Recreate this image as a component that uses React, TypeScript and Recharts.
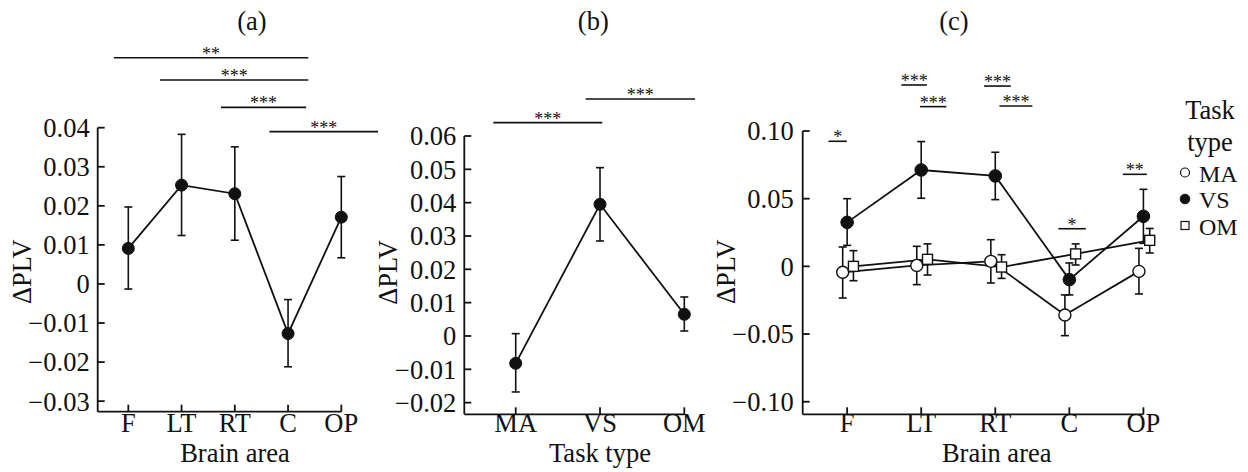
import React from 'react';
import { LineChart, Line, XAxis, YAxis, ErrorBar, ReferenceLine } from 'recharts';

// ---------- data ----------
const areas = ['F', 'LT', 'RT', 'C', 'OP'];
const taskTypes = ['MA', 'VS', 'OM'];

// (a) by brain area
const areaMean = [0.0091, 0.0253, 0.0231, -0.0127, 0.0171];
const areaLow = [-0.0013, 0.0124, 0.0112, -0.0212, 0.0067];
const areaHigh = [0.0197, 0.0383, 0.0351, -0.004, 0.0275];

// (b) by task type
const taskMean = [-0.0082, 0.0395, 0.0065];
const taskLow = [-0.0168, 0.0285, 0.0015];
const taskHigh = [0.0007, 0.0505, 0.0117];

// (c) area x task
const maMean = [-0.0044, 0.0007, 0.0037, -0.0359, -0.0037];
const maLow = [-0.0234, -0.0135, -0.0123, -0.0512, -0.0204];
const maHigh = [0.0143, 0.0148, 0.0197, -0.0211, 0.0133];
const vsMean = [0.0325, 0.0712, 0.0668, -0.0098, 0.037];
const vsLow = [0.0155, 0.0503, 0.0493, -0.0211, 0.017];
const vsHigh = [0.05, 0.0922, 0.0843, 0.0025, 0.0569];
const omMean = [0, 0.0052, -0.0005, 0.0092, 0.0192];
const omLow = [-0.0106, -0.0064, -0.0089, 0.001, 0.0099];
const omHigh = [0.0116, 0.0166, 0.0086, 0.0166, 0.028];

// tick values
const aTicksY = [-0.03, -0.02, -0.01, 0, 0.01, 0.02, 0.03, 0.04];
const bTicksY = [-0.02, -0.01, 0, 0.01, 0.02, 0.03, 0.04, 0.05, 0.06];
const cTicksY = [-0.1, -0.05, 0, 0.05, 0.1];
const areaTicks = [0, 1, 2, 3, 4];
const taskTicks = [0, 1, 2];

// significance brackets: from, to, level, stars
const aSigFrom = [-0.27, 0.595, 1.74, 2.65];
const aSigTo = [3.38, 3.38, 3.34, 4.69];
const aSigLevel = [0.0579, 0.0522, 0.0452, 0.039];
const aSigStars = ['**', '***', '***', '***'];

const bSigFrom = [-0.266, 0.83];
const bSigTo = [1.027, 2.127];
const bSigLevel = [0.064, 0.0711];
const bSigStars = ['***', '***'];

const cSigFrom = [-0.252, 0.733, 0.985, 1.849, 2.056, 2.852, 3.722];
const cSigTo = [-0.004, 1.076, 1.34, 2.21, 2.501, 3.222, 4.046];
const cSigLevel = [0.0924, 0.134, 0.118, 0.1332, 0.1185, 0.0278, 0.068];
const cSigStars = ['*', '***', '***', '***', '***', '*', '**'];

// ---------- helpers ----------
const INK = '#111';
const FS = 26.5;
const FONT = '"Liberation Serif", "Times New Roman", serif';
const YW = 60; // y axis band width
const XH = 40; // x axis band height

const rows = (mean: number[], low: number[], high: number[], shift = 0) =>
  mean.map((v, i) => ({ x: i + shift, y: v, err: [v - low[i], high[i] - v] }));

const fmt = (v: number) => {
  if (Math.abs(v) < 1e-9) return '0';
  return (v < 0 ? '\u2212' : '') + Math.abs(v).toFixed(2);
};

const axisStyle = { stroke: INK, strokeWidth: 1.8 };
const tickStyle = { fill: INK, fontSize: FS, fontFamily: FONT };

const sigLines = (from: number[], to: number[], level: number[], stars: string[]) =>
  from.map((f, i) => (
    <ReferenceLine
      key={`sig-${i}`}
      segment={[
        { x: f, y: level[i] },
        { x: to[i], y: level[i] },
      ]}
      stroke={INK}
      strokeWidth={1.6}
      ifOverflow="visible"
      label={{ value: stars[i], position: 'top', offset: -2, fontSize: 18, fill: INK, fontFamily: FONT }}
    />
  ));

const filledDot = { r: 6, fill: INK, stroke: INK, strokeWidth: 1 };
const openDot = { r: 6, fill: '#fff', stroke: INK, strokeWidth: 1.4 };
const squareDot = (p: any) => {
  if (p.cx == null || p.cy == null) return <g key={`sq-${p.index}`} />;
  return (
    <rect
      key={`sq-${p.index}`}
      x={p.cx - 5}
      y={p.cy - 5}
      width={10}
      height={10}
      fill="#fff"
      stroke={INK}
      strokeWidth={1.4}
    />
  );
};

const aRows = rows(areaMean, areaLow, areaHigh);
const bRows = rows(taskMean, taskLow, taskHigh);
const maRows = rows(maMean, maLow, maHigh, -0.06);
const vsRows = rows(vsMean, vsLow, vsHigh, 0);
const omRows = rows(omMean, omLow, omHigh, 0.085);

const xAxisCommon = {
  type: 'number' as const,
  dataKey: 'x',
  interval: 0 as const,
  height: XH,
  tickSize: -7,
  tickLine: axisStyle,
  tick: tickStyle,
};
const yAxisCommon = {
  type: 'number' as const,
  interval: 0 as const,
  tickFormatter: fmt,
  width: YW,
  tickSize: -7,
  tickLine: axisStyle,
  axisLine: axisStyle,
  tick: tickStyle,
};

export default function App() {
  return (
    <div
      style={{
        position: 'absolute',
        left: 0,
        top: 0,
        width: 1248,
        height: 472,
        background: '#fff',
        fontFamily: FONT,
        overflow: 'hidden',
      }}
    >
      {/* (a) */}
      <div style={{ position: 'absolute', left: 0, top: 0 }}>
        <LineChart width={400} height={472} data={aRows} margin={{ top: 127.7, right: 58.7, bottom: 60.3 - XH, left: 97.7 - YW }}>
          <XAxis {...xAxisCommon} tickMargin={8} domain={[-0.575, 4]} ticks={areaTicks} tickFormatter={(v: number) => areas[v]} axisLine={axisStyle} />
          <YAxis {...yAxisCommon} domain={[-0.0327, 0.04]} ticks={aTicksY} tickMargin={15} />
          {sigLines(aSigFrom, aSigTo, aSigLevel, aSigStars)}
          <Line type="linear" dataKey="y" stroke={INK} strokeWidth={1.8} dot={filledDot} activeDot={false} isAnimationActive={false}>
            <ErrorBar dataKey="err" direction="y" width={4} stroke={INK} strokeWidth={1.6} />
          </Line>
        </LineChart>
      </div>

      {/* (b) */}
      <div style={{ position: 'absolute', left: 375, top: 0 }}>
        <LineChart width={365} height={472} data={bRows} margin={{ top: 136, right: 55.7, bottom: 57.7 - XH, left: 464.3 - 375 - YW }}>
          <XAxis {...xAxisCommon} tickMargin={6} domain={[-0.61, 2]} ticks={taskTicks} tickFormatter={(v: number) => taskTypes[v]} axisLine={axisStyle} />
          <YAxis {...yAxisCommon} domain={[-0.0235, 0.06]} ticks={bTicksY} tickMargin={15} />
          {sigLines(bSigFrom, bSigTo, bSigLevel, bSigStars)}
          <Line type="linear" dataKey="y" stroke={INK} strokeWidth={1.8} dot={filledDot} activeDot={false} isAnimationActive={false}>
            <ErrorBar dataKey="err" direction="y" width={4} stroke={INK} strokeWidth={1.6} />
          </Line>
        </LineChart>
      </div>

      {/* (c) */}
      <div style={{ position: 'absolute', left: 700, top: 0 }}>
        <LineChart width={548} height={472} margin={{ top: 131, right: 95.7, bottom: 57.7 - XH, left: 802.7 - 700 - YW }}>
          <XAxis {...xAxisCommon} tickMargin={6} domain={[-0.6, 4.12]} ticks={areaTicks} tickFormatter={(v: number) => areas[v]} axisLine={false} />
          <YAxis {...yAxisCommon} domain={[-0.1093, 0.1]} ticks={cTicksY} tickMargin={16} />
          <ReferenceLine
            segment={[
              { x: -0.6, y: -0.1093 },
              { x: 4, y: -0.1093 },
            ]}
            stroke={INK}
            strokeWidth={1.8}
            ifOverflow="visible"
          />
          {sigLines(cSigFrom, cSigTo, cSigLevel, cSigStars)}
          <Line data={maRows} type="linear" dataKey="y" name={taskTypes[0]} stroke={INK} strokeWidth={1.8} dot={openDot} activeDot={false} isAnimationActive={false}>
            <ErrorBar dataKey="err" direction="y" width={4} stroke={INK} strokeWidth={1.6} />
          </Line>
          <Line data={omRows} type="linear" dataKey="y" name={taskTypes[2]} stroke={INK} strokeWidth={1.8} dot={squareDot} activeDot={false} isAnimationActive={false}>
            <ErrorBar dataKey="err" direction="y" width={4} stroke={INK} strokeWidth={1.6} />
          </Line>
          <Line data={vsRows} type="linear" dataKey="y" name={taskTypes[1]} stroke={INK} strokeWidth={1.8} dot={{ ...filledDot, r: 6.3 }} activeDot={false} isAnimationActive={false}>
            <ErrorBar dataKey="err" direction="y" width={4} stroke={INK} strokeWidth={1.6} />
          </Line>
        </LineChart>
      </div>

      {/* titles, axis labels, legend */}
      <svg
        width={1248}
        height={472}
        style={{ position: 'absolute', left: 0, top: 0, pointerEvents: 'none' }}
        fontFamily={FONT}
        fill={INK}
      >
        <text x={252} y={29.5} fontSize={FS} textAnchor="middle">(a)</text>
        <text x={593.3} y={29.5} fontSize={FS} textAnchor="middle">(b)</text>
        <text x={954} y={29.5} fontSize={FS} textAnchor="middle">(c)</text>

        <text x={235} y={461.5} fontSize={FS} textAnchor="middle">Brain area</text>
        <text x={600} y={461.5} fontSize={FS} textAnchor="middle">Task type</text>
        <text x={996.7} y={461.5} fontSize={FS} textAnchor="middle">Brain area</text>

        <text x={31.5} y={271.7} fontSize={FS} textAnchor="middle" transform="rotate(-90 31.5 271.7)">ΔPLV</text>
        <text x={396.5} y={272.5} fontSize={FS} textAnchor="middle" transform="rotate(-90 396.5 272.5)">ΔPLV</text>
        <text x={735} y={271.7} fontSize={FS} textAnchor="middle" transform="rotate(-90 735 271.7)">ΔPLV</text>

        <text x={1210} y={119.3} fontSize={FS} textAnchor="middle">Task</text>
        <text x={1210} y={150.7} fontSize={FS} textAnchor="middle">type</text>

        <circle cx={1185} cy={172.5} r={4.5} fill="#fff" stroke={INK} strokeWidth={1.2} />
        <text x={1199} y={181.5} fontSize={24}>{taskTypes[0]}</text>
        <circle cx={1185} cy={199} r={4.8} fill={INK} stroke={INK} strokeWidth={1} />
        <text x={1199} y={208.3} fontSize={24}>{taskTypes[1]}</text>
        <rect x={1181} y={221.5} width={8} height={8} fill="#fff" stroke={INK} strokeWidth={1.2} />
        <text x={1199} y={235} fontSize={24}>{taskTypes[2]}</text>
      </svg>
    </div>
  );
}
